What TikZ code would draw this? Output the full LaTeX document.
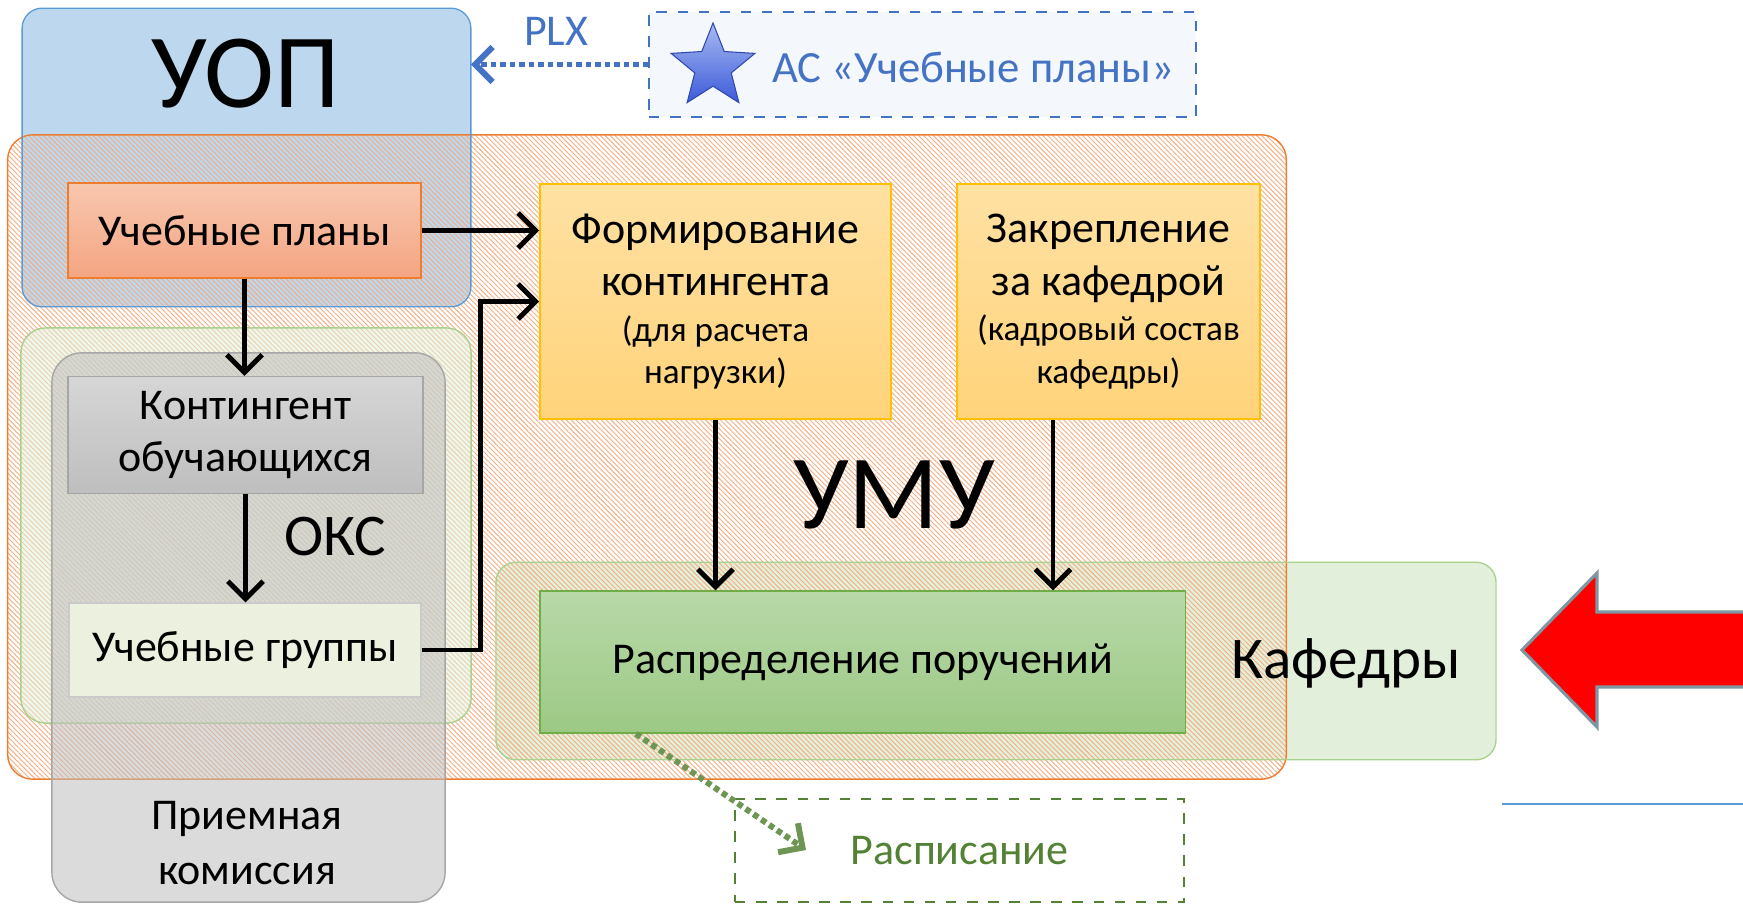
\documentclass[tikz,border=0pt]{standalone}
\usepackage{fontspec}
\setmainfont{Carlito}
\usetikzlibrary{positioning,shapes.geometric,arrows.meta,patterns.meta}

\definecolor{uopblue}{HTML}{BDD7EE}
\definecolor{uopline}{HTML}{5B9BD5}
\definecolor{umuline}{HTML}{ED7D31}
\definecolor{hatchcol}{HTML}{F4AE82}
\definecolor{okline}{HTML}{A9D18E}
\definecolor{okfill}{HTML}{E2EFDA}
\definecolor{grayfill}{HTML}{BFBFBF}
\definecolor{grayline}{HTML}{A6A6A6}
\definecolor{plantop}{HTML}{F8C7AF}
\definecolor{planbot}{HTML}{F4A582}
\definecolor{yeltop}{HTML}{FFE1A3}
\definecolor{yelbot}{HTML}{FFD37A}
\definecolor{yelline}{HTML}{FFC000}
\definecolor{grntop}{HTML}{B8D8A8}
\definecolor{grnbot}{HTML}{9CC985}
\definecolor{grnline}{HTML}{70AD47}
\definecolor{darkgrn}{HTML}{548235}
\definecolor{acblue}{HTML}{4472C4}
\definecolor{grpfill}{HTML}{EBF1DE}
\definecolor{kontop}{HTML}{D6D6D6}
\definecolor{konbot}{HTML}{BEBEBE}
\definecolor{starlt}{HTML}{A8BAF2}
\definecolor{stardk}{HTML}{3D5BD9}
\definecolor{arrgray}{HTML}{7F97A2}

\begin{document}
\begin{tikzpicture}[x=0.01cm, y=-0.01cm,
    area/.style={rectangle, rounded corners=0.2cm, inner sep=0pt},
    box/.style={rectangle, draw, align=center, inner sep=0pt, font=\fontsize{12.5}{15}\selectfont},
    big/.style={inner sep=0pt, anchor=base, font=\fontsize{30}{36}\selectfont},
    mid/.style={inner sep=0pt, anchor=base, font=\fontsize{16.8}{20}\selectfont},
    arr/.style={-{Straight Barb[length=5pt,width=10pt]}, line width=1.4pt},
    dots/.style={line width=1.7pt, dash pattern=on 1.6pt off 1.1pt}]

    \useasboundingbox[fill=white] (0,0) rectangle (1743,903);

    % areas under the hatch
    \node (uop) [area, fill=uopblue, minimum width=4.47cm, minimum height=2.97cm] at (246.5,157.5) {};
    \node (kaf) [area, fill=okfill, minimum width=9.98cm, minimum height=1.96cm] at (996,661) {};

    % УМУ
    \node (umu) [area, draw=umuline, rounded corners=0.25cm, pattern={Lines[angle=-45,distance=1pt,line width=0.26pt]}, pattern color=hatchcol, minimum width=12.78cm, minimum height=6.44cm] at (647,457) {};

    % areas over the hatch
    \node (oks) [area, draw=okline, fill=okfill, fill opacity=0.55, rounded corners=0.25cm, minimum width=4.5cm, minimum height=3.95cm] at (246,525.5) {};
    \node (priem) [area, draw=grayline, fill=grayfill, fill opacity=0.55, rounded corners=0.3cm, minimum width=3.93cm, minimum height=5.49cm] at (248.5,627.5) {};
    \draw [uopline, rounded corners=0.2cm] (uop.north west) rectangle (uop.south east);
    \draw [okline, rounded corners=0.2cm] (kaf.north west) rectangle (kaf.south east);

    % labels
    \node (uoplbl) [big] at (246,107) {УОП};
    \node (umulbl) [big] at (894,528) {УМУ};
    \node (okslbl) [mid] at (335,555) {ОКС};
    \node (kaflbl) [mid] at (1346,678) {Кафедры};
    \node (priemlbl) [align=center, inner sep=0pt, font=\fontsize{12.5}{15.6}\selectfont] at (247,843) {Приемная\\комиссия};

    % АС «Учебные планы»
    \node (ac) [box, draw=acblue, dashed, fill=acblue!6, minimum width=5.47cm, minimum height=1.05cm] at (922.5,64.5) {};
    \node (star) [star, star points=5, star point ratio=2.3, minimum size=0.88cm, inner sep=0pt, top color=starlt, bottom color=stardk, draw=stardk!80!black, line width=0.3pt] at (713,67) {};
    \node (actext) [inner sep=0pt, text=acblue, font=\fontsize{12.7}{15}\selectfont, right=0.33cm of star] {АС «Учебные планы»};
    \node (plx) [inner sep=0pt, anchor=base, text=acblue, font=\fontsize{12.5}{15}\selectfont] at (556,45) {PLX};

    % boxes
    \node (plans) [box, draw=umuline, top color=plantop, bottom color=planbot, minimum width=3.53cm, minimum height=0.95cm] at (244.5,230.5) {Учебные планы};
    \node (kont) [box, draw=grayline, top color=kontop, bottom color=konbot, minimum width=3.55cm, minimum height=1.17cm] at (245.5,435) {Контингент\\обучающихся};
    \node (groups) [box, draw=grayline!60, fill=grpfill, minimum width=3.52cm, minimum height=0.94cm] at (245,650) {Учебные группы};
    \node (form) [box, draw=yelline, top color=yeltop, bottom color=yelbot, minimum width=3.51cm, minimum height=2.35cm] at (715.5,301.5) {Формирование\\контингента\\[-2pt]{\fontsize{10}{12}\selectfont (для расчета}\\[-3pt]{\fontsize{10}{12}\selectfont нагрузки)}};
    \node (zakr) [box, draw=yelline, top color=yeltop, bottom color=yelbot, minimum width=3.03cm, minimum height=2.35cm] at (1108.5,301.5) {Закрепление\\за кафедрой\\[-2pt]{\fontsize{10}{12}\selectfont (кадровый состав}\\[-3pt]{\fontsize{10}{12}\selectfont кафедры)}};
    \node (raspr) [box, draw=grnline, top color=grntop, bottom color=grnbot, minimum width=6.45cm, minimum height=1.42cm] at (862.5,662) {Распределение поручений};
    \node (raspis) [box, draw=darkgrn, dashed, fill=white, text=darkgrn, minimum width=4.49cm, minimum height=1.03cm] at (959.5,850.5) {Расписание};

    % connectors
    \draw [arr] (plans.east) -- (form.west |- plans.east);
    \draw [arr] (groups.east) -- ++(59,0) |- (form.west);
    \draw [arr] (plans.south) -- (plans.south |- kont.north);
    \draw [arr] (kont.south) -- (kont.south |- groups.north);
    \draw [arr] (form.south) -- (form.south |- raspr.north);
    \draw [arr] ([xshift=-5.55mm]zakr.south) -- ([xshift=-5.55mm]zakr.south |- raspr.north);
    \draw [dots, acblue, -{Straight Barb[length=5pt,width=10pt]}] (ac.west) -- (uop.east |- ac.west);
    \coordinate (rspend) at (806,850);
    \draw [dots, darkgrn!85, -{Straight Barb[length=5pt,width=10pt]}] ([xshift=-2.265cm]raspr.south) -- (rspend);

    % red arrow and line
    \filldraw [fill=red, draw=arrgray, line width=0.9pt] (1760,612) -- (1597,612) -- (1597,573) -- (1522,650) -- (1597,727) -- (1597,687) -- (1760,687);
    \draw [uopline, line width=0.7pt] (1502,804) -- (1760,804);
\end{tikzpicture}
\end{document}
